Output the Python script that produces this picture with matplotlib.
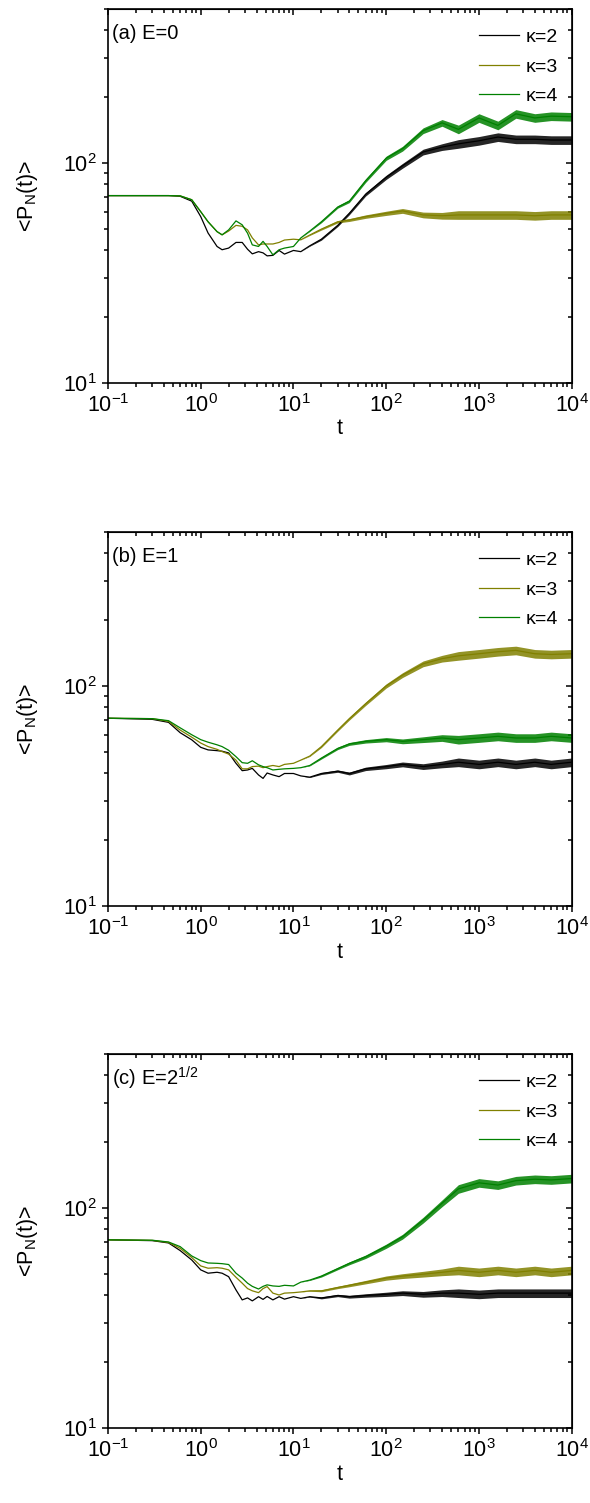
import matplotlib
matplotlib.use('Agg')
import matplotlib.pyplot as plt

plt.rcParams['font.family'] = ['Liberation Sans', 'DejaVu Sans']
plt.rcParams['mathtext.default'] = 'regular'
plt.rcParams['axes.unicode_minus'] = False

# time grid
t = [0.1, 0.3, 0.45, 0.6, 0.8, 1.0, 1.2, 1.5, 1.7, 2.0, 2.4, 2.8, 3.2, 3.6, 4.2, 4.7,
     5.2, 6.0, 7.0, 8.0, 10, 12, 15, 20, 30, 40, 60, 100, 150, 250, 400, 600,
     1000, 1600, 2500, 4000, 6000, 10000]

# (a) E=0
a_k2 = [71, 71, 71, 70.5, 67, 57, 48, 41.7, 40.3, 41, 43.5, 43.5, 40.5, 38.6, 39.5, 39,
        37.8, 38, 40, 38.5, 40, 39.5, 42, 45, 52, 59, 72, 86, 97, 112, 118, 122,
        126, 131, 128, 128, 127, 127]
a_k3 = [71, 71, 71, 70.8, 68, 60, 54, 48.7, 47.1, 49, 52, 51.5, 49.6, 45.6, 42.4, 42.8,
        42.8, 42.8, 43.5, 44.6, 45, 44.7, 47, 50, 54, 55, 57, 59, 60.5, 58, 57.5, 58,
        58, 58, 58, 57.5, 58, 58]
a_k4 = [71, 71, 71, 70.8, 68, 60, 54, 48.7, 47.1, 49.6, 54.5, 52.3, 47.9, 42.4, 41.7, 44,
        41.7, 38.2, 40.3, 41, 41.7, 45.6, 49, 54, 63, 67, 83, 105, 116, 140, 152, 142,
        160, 148, 167, 160, 163, 162]

# (b) E=1
b_k2 = [71.3, 70.5, 68.3, 61.3, 56.9, 52.6, 51.2, 50.8, 50.5, 49.6, 44.5, 41.2, 41.5, 42.2,
        39.4, 38, 40.2, 39.4, 38.7, 40, 40, 39, 38.5, 40, 41, 40, 42, 43, 44, 43, 44,
        45, 44, 45, 44, 45, 44, 45]
b_k3 = [71.3, 71, 69, 63, 58.5, 55, 53, 51.5, 50.3, 49, 46, 42, 42, 43, 43.2, 42.5, 43,
        43.5, 43, 44, 44.5, 46, 48, 53, 63, 71, 83, 100, 112, 126, 133, 137, 140, 143,
        145, 140, 139, 140]
b_k4 = [71.3, 71, 69.5, 64.5, 60, 57, 55.5, 54, 53, 51, 47.7, 44.8, 44.5, 45.7, 43.8, 43,
        42.5, 41.5, 41.8, 42, 42.2, 42.5, 43.5, 47, 52, 54.5, 56, 57, 56, 57, 58, 57,
        58, 59, 58, 58, 59, 58]

# (c) E=2^(1/2)
c_k2 = [71.6, 71, 69.3, 64, 58, 52.3, 50.5, 51, 50.5, 48.7, 42.4, 38.2, 39, 37.8, 39.5, 38.4,
        39.6, 38.2, 39.5, 38.5, 39.5, 38.8, 39.5, 39, 40, 39.5, 40, 40.5, 41, 40.5, 41,
        41, 40.5, 41, 41, 41, 41, 41]
c_k3 = [71.6, 71.2, 69.7, 65.5, 59.5, 54.5, 53.2, 53.5, 53.2, 52.3, 48.4, 45.5, 43, 42, 41.2,
        43, 43.9, 41, 40.2, 41, 41.2, 41.5, 42, 42, 43.5, 44.5, 46, 48, 49, 50, 51, 52,
        51, 52, 51, 52, 51, 52]
c_k4 = [71.6, 71.3, 70, 66.7, 60.5, 57.6, 56.2, 56, 55.8, 55.3, 50.5, 48, 45.5, 44, 42.8,
        44, 44.7, 44.2, 44, 44.5, 44.2, 46, 47, 49, 53, 56, 60, 67, 74, 88, 105, 122,
        130, 127, 133, 135, 134, 136]

# relative half-width of the fluctuation band seen around each curve
spread = [0, 0, 0, 0, 0, 0, 0, 0, 0, 0, 0, 0, 0, 0, 0, 0,
          0, 0, 0, 0, 0, 0, 0.004, 0.01, 0.012, 0.015, 0.018, 0.022, 0.025, 0.03,
          0.035, 0.045, 0.045, 0.045, 0.045, 0.045, 0.045, 0.045]

kappa_labels = ['\u03ba=2', '\u03ba=3', '\u03ba=4']
colors = ['black', '#808000', '#008000']
panel_titles = ['(a) E=0', '(b) E=1', '(c) E=2$^{1/2}$']
panels = [[a_k2, a_k3, a_k4], [b_k2, b_k3, b_k4], [c_k2, c_k3, c_k4]]

fig = plt.figure(figsize=(5.9, 15.03), dpi=100)
bottoms = [0.7452, 0.3972, 0.0499]

for title, series, bot in zip(panel_titles, panels, bottoms):
    ax = fig.add_axes([0.183, bot, 0.786, 0.2488])
    for y, c, lab in zip(series, colors, kappa_labels):
        lo = [v * (1 - s) for v, s in zip(y, spread)]
        hi = [v * (1 + s) for v, s in zip(y, spread)]
        ax.fill_between(t, lo, hi, color=c, lw=0, alpha=0.85)
        ax.plot(t, y, color=c, lw=0.9, label=lab)
    ax.set_xscale('log')
    ax.set_yscale('log')
    ax.set_xlim(0.1, 1e4)
    ax.set_ylim(10, 500)
    for sp in ax.spines.values():
        sp.set_linewidth(1.2)
    ax.tick_params(which='both', direction='out', top=False, right=False,
                   labelsize=15.5, width=1.1)
    ax.tick_params(which='major', length=4.5)
    ax.tick_params(which='minor', length=3)

    # inward ticks on the top and right sides
    sx = ax.secondary_xaxis('top')
    sx.tick_params(which='both', direction='in', labeltop=False, width=1.1)
    sx.tick_params(which='major', length=4.5)
    sx.tick_params(which='minor', length=3)
    sy = ax.secondary_yaxis('right')
    sy.tick_params(which='both', direction='in', labelright=False, width=1.1)
    sy.tick_params(which='major', length=4.5)
    sy.tick_params(which='minor', length=3)

    ax.set_xlabel('t', fontsize=15.5)
    ax.set_ylabel('<P$_N$(t)>', fontsize=15.5)
    ax.xaxis.set_label_coords(0.5, -0.095)
    ax.yaxis.set_label_coords(-0.147, 0.5)

    ax.text(0.008, 0.935, title, transform=ax.transAxes, fontsize=14.5,
            va='center', ha='left')
    ax.legend(loc='upper right', bbox_to_anchor=(1.0, 0.984), frameon=False,
              fontsize=14, handlelength=2.06, borderaxespad=0.3,
              labelspacing=0.6, handletextpad=0.36)

fig.savefig('out.png', dpi=100)
